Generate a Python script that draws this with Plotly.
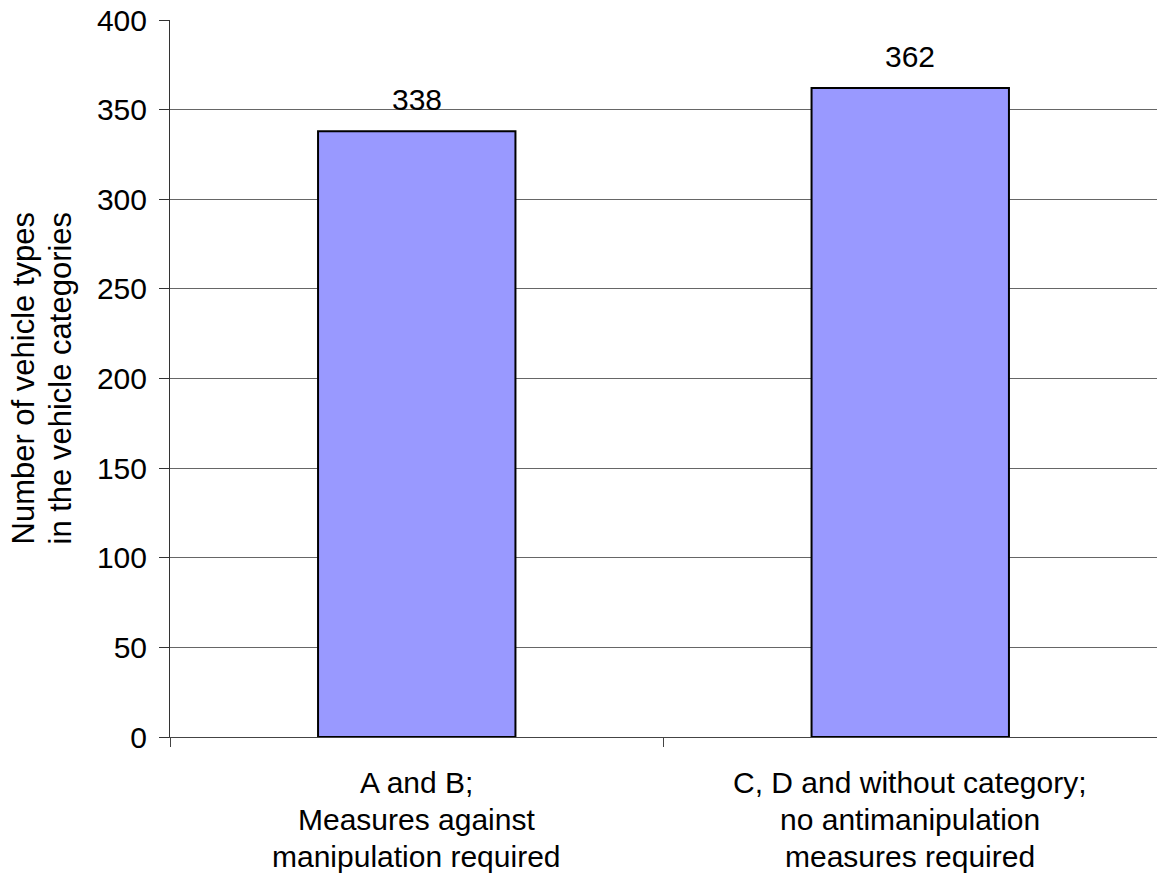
import plotly.graph_objects as go

categories = ["A and B;<br>Measures against<br>manipulation required",
              "C, D and without category;<br>no antimanipulation<br>measures required"]
values = [338, 362]
y_title_lines = ["Number of vehicle types", "in the vehicle categories"]
y_ticks = [0, 50, 100, 150, 200, 250, 300, 350, 400]

FONT = "Liberation Sans, Arial, sans-serif"
FS = 30

fig = go.Figure()
fig.add_trace(go.Bar(
    x=[0, 1], y=values,
    marker=dict(color="#9999FF", line=dict(color="#000000", width=2)),
    width=0.4, hoverinfo="y",
))

annotations = []
# data labels
for i, v in enumerate(values):
    annotations.append(dict(
        x=i, xref="x", y=v, yref="y", yanchor="middle", yshift=32,
        text=str(v), showarrow=False,
        font=dict(family=FONT, size=FS, color="#000000"),
    ))
# category labels
for i, cat in enumerate(categories):
    for j, line in enumerate(cat.split("<br>")):
        annotations.append(dict(
            x=i, xref="x", y=0, yref="paper", yanchor="middle",
            yshift=-45 - 37 * j, text=line, showarrow=False,
            font=dict(family=FONT, size=FS, color="#000000"),
        ))
# y-axis title
for j, line in enumerate(y_title_lines):
    annotations.append(dict(
        x=0, xref="paper", xshift=-147 + 37 * j, xanchor="center",
        y=0.5, yref="paper", text=line, showarrow=False, textangle=-90,
        font=dict(family=FONT, size=31, color="#000000"),
    ))

fig.update_layout(
    width=1157, height=875,
    margin=dict(l=170, r=0, t=20, b=138, autoexpand=False),
    paper_bgcolor="white", plot_bgcolor="white",
    showlegend=False,
    annotations=annotations,
    font=dict(family=FONT, size=FS, color="#000000"),
)
fig.update_xaxes(
    range=[-0.5, 1.5], tickmode="array", tickvals=[-0.5, 0.5, 1.5],
    showticklabels=False, ticks="outside", ticklen=9, tickcolor="#444444",
    showline=True, linecolor="#444444", linewidth=1, showgrid=False, zeroline=False,
    automargin=False,
)
fig.update_yaxes(
    range=[0, 400], tickmode="array", tickvals=y_ticks,
    ticks="outside", ticklen=10, tickcolor="#333333",
    showline=True, linecolor="#333333", linewidth=1,
    showgrid=True, gridcolor="#666666", gridwidth=1, zeroline=False,
    tickfont=dict(family=FONT, size=FS, color="#000000"),
    ticklabelstandoff=6, ticklabeloverflow="allow", automargin=False,
)

fig.write_html(
    "out.html",
    config={"displayModeBar": False},
    post_script="document.body.style.margin='0';document.body.style.overflow='hidden';",
)
